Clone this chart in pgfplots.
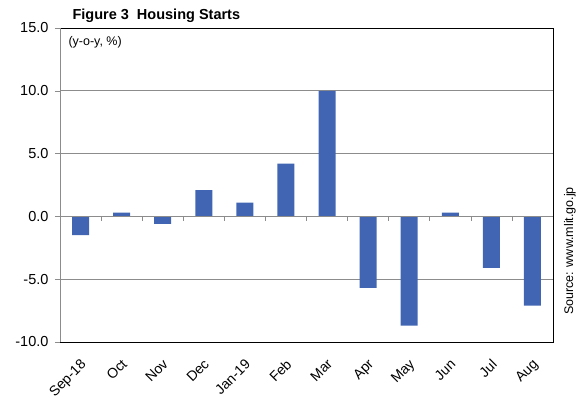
\documentclass[border=0pt]{standalone}
\usepackage{pgfplots}
\pgfplotsset{compat=1.18}
\usepackage{fontspec}
\setmainfont{Liberation Sans}
\definecolor{barblue}{RGB}{66,101,179}
\definecolor{gridgray}{RGB}{140,140,140}
\begin{document}
\begin{tikzpicture}
\begin{axis}[
  scale only axis,
  width=493pt, height=314pt,
  xmin=-0.5, xmax=11.5,
  ymin=-10, ymax=15,
  ytick={-10,-5,0,5,10,15},
  xtick={0,...,11},
  xticklabels={Sep-18,Oct,Nov,Dec,Jan-19,Feb,Mar,Apr,May,Jun,Jul,Aug},
  x tick label style={rotate=45, anchor=north east, font=\fontsize{14}{16}\selectfont, xshift=-5pt, yshift=-4pt},
  y tick label style={font=\fontsize{14.5}{16}\selectfont, xshift=-3pt, /pgf/number format/fixed, /pgf/number format/fixed zerofill, /pgf/number format/precision=1},
  /pgf/number format/assume math mode=true,
  xtick style={draw=none},
  ytick style={draw=gridgray},
  ytick pos=left,
  tick align=outside,
  major tick length=5pt,
  ymajorgrids,
  grid style={gridgray, line width=0.6pt},
  axis line style={black, line width=0.8pt},
  ybar, bar width=17pt,
  clip=false,
]
\addplot[fill=barblue, draw=none] coordinates {
 (0,-1.5) (1,0.3) (2,-0.6) (3,2.1) (4,1.1) (5,4.2) (6,10.0) (7,-5.7) (8,-8.7) (9,0.3) (10,-4.1) (11,-7.1)
};
\draw[gridgray, line width=0.6pt] (axis cs:-0.5,0) -- (axis cs:11.5,0);
\pgfplotsinvokeforeach{0.5,1.5,2.5,3.5,4.5,5.5,6.5,7.5,8.5,9.5,10.5}{
  \draw[gridgray, line width=0.6pt] (axis cs:#1,0) -- ++(0pt,-5pt);
}
\draw[gridgray, line width=0.8pt] (rel axis cs:0,0) -- (rel axis cs:0,1);
\node[anchor=north west, font=\fontsize{12.5}{14}\selectfont] at ([xshift=5pt,yshift=-5pt]rel axis cs:0,1) {(y-o-y, \%)};
\node[anchor=south west, font=\bfseries\fontsize{14.5}{16}\selectfont] at ([xshift=9pt,yshift=2pt]rel axis cs:0,1) {Figure 3\ \ Housing Starts};
\node[rotate=90, font=\fontsize{12.5}{14}\selectfont] at ([xshift=17pt]rel axis cs:1,0.29) {Source: www.mlit.go.jp};
\end{axis}
\pgfresetboundingbox
\path ([shift={(-60pt,-56pt)}]current axis.south west) rectangle ([shift={(32pt,28pt)}]current axis.north east);
\end{tikzpicture}
\end{document}
